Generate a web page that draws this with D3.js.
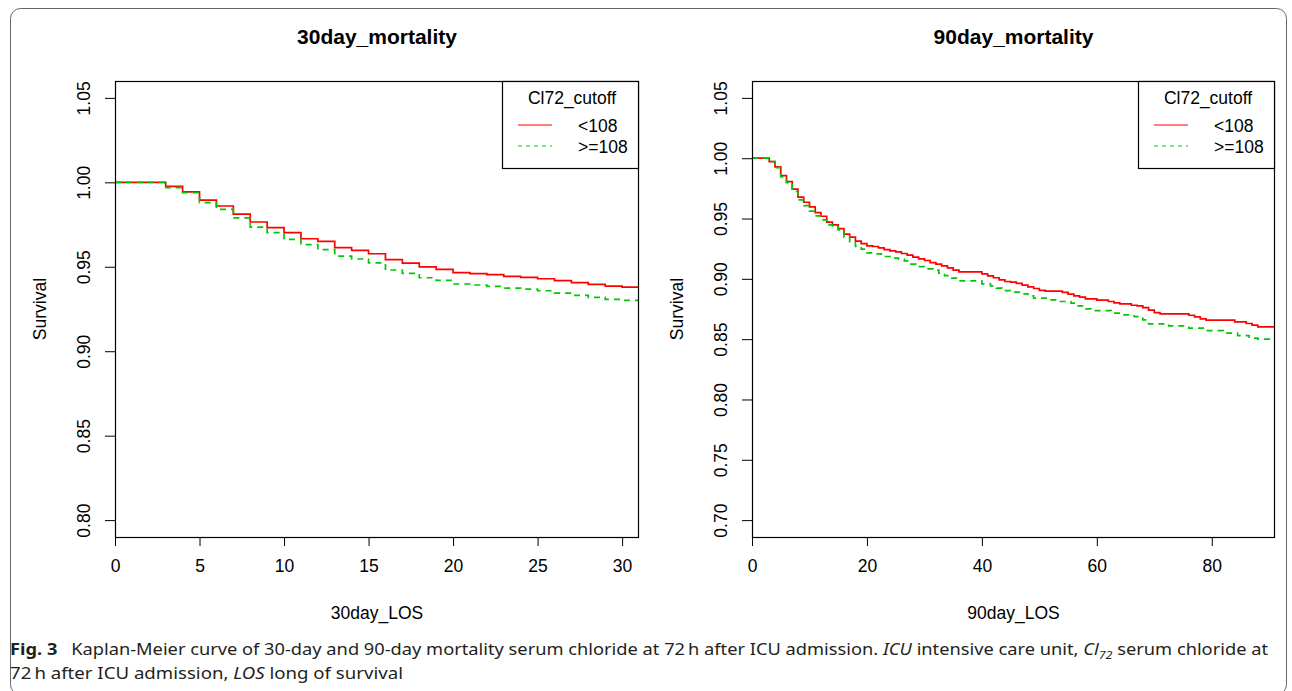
<!DOCTYPE html>
<html>
<head>
<meta charset="utf-8">
<script src="https://cdn.jsdelivr.net/npm/d3@7"></script>
<style>
  body { margin: 0; background: #fff; }
  svg { display: block; }
</style>
</head>
<body>
<div id="chart"></div>
<script>
// ---- data ----
var groups = ["<108", ">=108"];
var groupColors = ["#ff0000", "#00c800"];

// 30 day panel (event times are shared by both groups)
var days30 = [0, 3, 4, 5, 6, 7, 8, 9, 10, 11, 12, 13, 14, 15, 16, 17, 18, 19, 20, 21, 22, 23, 24, 25, 26, 27, 28, 29, 30];
var lt108_30 = [1.000, 0.9976, 0.9943, 0.9895, 0.9860, 0.9812, 0.9765, 0.9732, 0.9702, 0.9666, 0.9650, 0.9613, 0.9597, 0.9577,
  0.9542, 0.9522, 0.9500, 0.9485, 0.9465, 0.9459, 0.9453, 0.9443, 0.9437, 0.9429, 0.9418, 0.9406, 0.9396, 0.9386, 0.9380];
var ge108_30 = [1.000, 0.9969, 0.9939, 0.9880, 0.9840, 0.9789, 0.9735, 0.9702, 0.9662, 0.9631, 0.9601, 0.9563, 0.9546, 0.9523,
  0.9481, 0.9461, 0.9435, 0.9419, 0.9398, 0.9392, 0.9384, 0.9374, 0.9368, 0.9358, 0.9344, 0.9331, 0.9319, 0.9307, 0.9301];
var followUp30 = 31;

// 90 day panel
var lt108_90_days = [0, 3, 4, 5, 6, 7, 8, 9, 10, 11, 12, 13, 14, 15, 16, 17, 18, 19, 20, 21, 22, 23, 24, 25, 26, 27, 28, 29, 30,
  31, 32, 33, 34, 35, 36, 40, 41, 42, 43, 44, 45, 46, 47, 48, 49, 50, 51, 54, 55, 56, 57, 58, 60, 62, 63, 64, 66, 67, 68, 69,
  70, 71, 76, 77, 78, 79, 84, 86, 87, 88];
var lt108_90 = [1.000, 0.9972, 0.9928, 0.9856, 0.9806, 0.9743, 0.9677, 0.9635, 0.9597, 0.9549, 0.9519, 0.9470, 0.9447, 0.9417,
  0.9370, 0.9345, 0.9312, 0.9292, 0.9273, 0.9268, 0.9257, 0.9243, 0.9232, 0.9224, 0.9210, 0.9196, 0.9180, 0.9166, 0.9152,
  0.9135, 0.9122, 0.9108, 0.9091, 0.9072, 0.9058, 0.9042, 0.9025, 0.9009, 0.8992, 0.8978, 0.8973, 0.8962, 0.8948, 0.8934,
  0.8920, 0.8904, 0.8898, 0.8887, 0.8873, 0.8859, 0.8848, 0.8834, 0.8823, 0.8812, 0.8801, 0.8792, 0.8781, 0.8776, 0.8762,
  0.8740, 0.8720, 0.8709, 0.8698, 0.8684, 0.8668, 0.8657, 0.8643, 0.8630, 0.8616, 0.8602];
var ge108_90_days = [0, 3, 4, 5, 6, 7, 8, 9, 10, 11, 12, 13, 14, 15, 16, 17, 18, 19, 20, 21.5, 22.5, 24, 25.5, 26.5, 27.5, 28.5,
  30, 31.5, 32.5, 33.5, 34.5, 36, 40, 41.5, 42.5, 43.5, 45, 46.5, 48, 49, 51.5, 53.5, 55.5, 56.5, 57.5, 59, 62.5, 64.5, 66.5,
  68, 69, 72.5, 76, 78.5, 82, 84.5, 86.5, 88];
var ge108_90 = [1.000, 0.9972, 0.9922, 0.9845, 0.9798, 0.9724, 0.9655, 0.9607, 0.9561, 0.9522, 0.9489, 0.9447, 0.9428, 0.9406,
  0.9345, 0.9300, 0.9268, 0.9246, 0.9215, 0.9207, 0.9185, 0.9171, 0.9163, 0.9149, 0.9122, 0.9102, 0.9083, 0.9072, 0.9047,
  0.9027, 0.9006, 0.8983, 0.8959, 0.8942, 0.8923, 0.8903, 0.8890, 0.8875, 0.8859, 0.8840, 0.8826, 0.8812, 0.8798, 0.8776,
  0.8751, 0.8737, 0.8715, 0.8701, 0.8687, 0.8660, 0.8627, 0.8610, 0.8591, 0.8571, 0.8550, 0.8530, 0.8508, 0.8500];
var followUp90 = 91;

var yTicks30 = [0.80, 0.85, 0.90, 0.95, 1.00, 1.05];
var yTicks90 = [0.70, 0.75, 0.80, 0.85, 0.90, 0.95, 1.00, 1.05];
var xTicks30 = [0, 5, 10, 15, 20, 25, 30];
var xTicks90 = [0, 20, 40, 60, 80];

// ---- drawing ----
var width = 1292, height = 691;
var font = "'Liberation Sans', Arial, Helvetica, sans-serif";

var svg = d3.select("#chart")
  .append("svg")
  .attr("width", width)
  .attr("height", height);

svg.append("rect")
  .attr("x", 10.5).attr("y", 8.5)
  .attr("width", 1276).attr("height", 686)
  .attr("rx", 10)
  .attr("fill", "none")
  .attr("stroke", "#666")
  .attr("stroke-width", 1);

function toSeries(days, surv, followUp) {
  var pts = days.map(function(d, i) { return [d, surv[i]]; });
  pts.push([followUp, surv[surv.length - 1]]);
  return pts;
}

function drawPanel(p) {
  var x = d3.scaleLinear().domain(p.xDomain).range([p.left, p.right]);
  var y = d3.scaleLinear().domain(p.yDomain).range([p.bottom, p.top]);

  var g = svg.append("g");

  g.append("clipPath").attr("id", p.id + "-clip")
    .append("rect")
    .attr("x", p.left).attr("y", p.top)
    .attr("width", p.right - p.left).attr("height", p.bottom - p.top);

  var line = d3.line()
    .x(function(d) { return x(d[0]); })
    .y(function(d) { return y(d[1]); })
    .curve(d3.curveStepAfter);

  var curves = g.append("g").attr("clip-path", "url(#" + p.id + "-clip)");
  p.series.forEach(function(s, i) {
    curves.append("path")
      .datum(s)
      .attr("fill", "none")
      .attr("stroke", groupColors[i])
      .attr("stroke-width", 1.7)
      .attr("stroke-dasharray", i === 1 ? "6,5" : null)
      .attr("d", line);
  });

  // y axis
  var yAxis = g.append("g")
    .attr("transform", "translate(" + p.left + ",0)")
    .call(d3.axisLeft(y).tickValues(p.yTicks).tickFormat(d3.format(".2f")).tickSize(10).tickSizeOuter(0));
  yAxis.select(".domain").remove();
  yAxis.selectAll("line").attr("stroke", "#000");
  yAxis.selectAll("text")
    .attr("transform", "rotate(-90)")
    .attr("x", 0).attr("y", -25).attr("dy", 0)
    .attr("text-anchor", "middle")
    .style("font-family", font)
    .style("font-size", "17.5px")
    .attr("fill", "#000");

  // x axis
  var xAxis = g.append("g")
    .attr("transform", "translate(0," + p.bottom + ")")
    .call(d3.axisBottom(x).tickValues(p.xTicks).tickSize(9).tickSizeOuter(0));
  xAxis.select(".domain").remove();
  xAxis.selectAll("line").attr("stroke", "#000");
  xAxis.selectAll("text")
    .attr("y", 35).attr("dy", 0)
    .style("font-family", font)
    .style("font-size", "17.5px")
    .attr("fill", "#000");

  // frame
  g.append("rect")
    .attr("x", p.left + 0.5).attr("y", p.top + 0.5)
    .attr("width", p.right - p.left - 1).attr("height", p.bottom - p.top)
    .attr("fill", "none")
    .attr("stroke", "#000")
    .attr("stroke-width", 1.2);

  var cx = (p.left + p.right) / 2;
  g.append("text")
    .attr("x", cx).attr("y", 44)
    .attr("text-anchor", "middle")
    .style("font-family", font).style("font-size", "21px").style("font-weight", "bold")
    .text(p.title);

  g.append("text")
    .attr("x", cx).attr("y", 619)
    .attr("text-anchor", "middle")
    .style("font-family", font).style("font-size", "17.5px")
    .text(p.xLabel);

  g.append("text")
    .attr("transform", "translate(" + (p.left - 69) + "," + ((p.top + p.bottom) / 2) + ") rotate(-90)")
    .attr("text-anchor", "middle")
    .style("font-family", font).style("font-size", "17.5px")
    .text("Survival");

  // legend
  var lx = p.right - 137;
  var leg = g.append("g");
  leg.append("rect")
    .attr("x", lx + 0.5).attr("y", p.top + 0.5)
    .attr("width", 136).attr("height", 87)
    .attr("fill", "#fff")
    .attr("stroke", "#000")
    .attr("stroke-width", 1.2);
  leg.append("text")
    .attr("x", lx + 70).attr("y", p.top + 23)
    .attr("text-anchor", "middle")
    .style("font-family", font).style("font-size", "17.5px")
    .text("Cl72_cutoff");
  groups.forEach(function(name, i) {
    var ly = p.top + 44 + i * 21;
    leg.append("line")
      .attr("x1", lx + 16).attr("x2", lx + 50)
      .attr("y1", ly).attr("y2", ly)
      .attr("stroke", groupColors[i])
      .attr("stroke-width", 1.2)
      .attr("stroke-dasharray", i === 1 ? "4,4" : null);
    leg.append("text")
      .attr("x", lx + 76).attr("y", ly + 6.5)
      .style("font-family", font).style("font-size", "17.5px")
      .text(name);
  });
}

drawPanel({
  id: "p30", title: "30day_mortality", xLabel: "30day_LOS",
  left: 115, right: 639, top: 81, bottom: 537,
  xDomain: [0, 31], yDomain: [0.79, 1.06],
  xTicks: xTicks30, yTicks: yTicks30,
  series: [toSeries(days30, lt108_30, followUp30), toSeries(days30, ge108_30, followUp30)]
});

drawPanel({
  id: "p90", title: "90day_mortality", xLabel: "90day_LOS",
  left: 752, right: 1275, top: 81, bottom: 537,
  xDomain: [0, 91], yDomain: [0.686, 1.064],
  xTicks: xTicks90, yTicks: yTicks90,
  series: [toSeries(lt108_90_days, lt108_90, followUp90), toSeries(ge108_90_days, ge108_90, followUp90)]
});

// caption
var capFont = "'Noto Sans', 'Open Sans', sans-serif";
var cap1 = svg.append("text")
  .attr("x", 10).attr("y", 655)
  .attr("textLength", 1258).attr("lengthAdjust", "spacingAndGlyphs")
  .style("font-family", capFont).style("font-size", "16px").attr("fill", "#231f20");
cap1.append("tspan").style("font-weight", "bold").text("Fig. 3");
cap1.append("tspan").text("\u2002 Kaplan-Meier curve of 30-day and 90-day mortality serum chloride at 72\u2009h after ICU admission. ");
cap1.append("tspan").style("font-style", "italic").text("ICU");
cap1.append("tspan").text(" intensive care unit, ");
cap1.append("tspan").style("font-style", "italic").text("Cl");
cap1.append("tspan").style("font-style", "italic").style("font-size", "11px").attr("dy", 4).text("72");
cap1.append("tspan").attr("dy", -4).text(" serum chloride at");

var cap2 = svg.append("text")
  .attr("x", 10).attr("y", 679)
  .attr("textLength", 393).attr("lengthAdjust", "spacingAndGlyphs")
  .style("font-family", capFont).style("font-size", "16px").attr("fill", "#231f20");
cap2.append("tspan").text("72\u2009h after ICU admission, ");
cap2.append("tspan").style("font-style", "italic").text("LOS");
cap2.append("tspan").text(" long of survival");
</script>
</body>
</html>
